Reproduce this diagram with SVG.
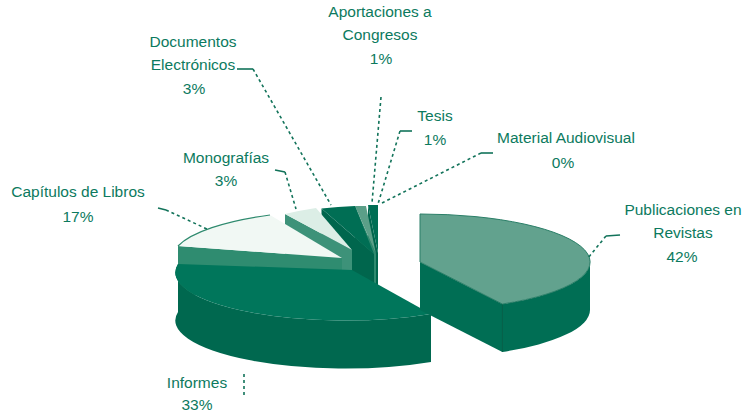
<svg xmlns="http://www.w3.org/2000/svg" width="746" height="415" viewBox="0 0 746 415">
<style>
.lbl{font-family:"Liberation Sans",Arial,sans-serif;font-size:15.5px;fill:#0c7a5e;text-anchor:middle}
.lead{fill:none;stroke:#12735a;stroke-width:1.6;stroke-dasharray:3 3}
.stub{fill:none;stroke:#12735a;stroke-width:1.6}
.dark{fill:#006e54}
.darker{fill:#00664d}
</style>
<rect width="746" height="415" fill="#ffffff"/>
<g id="tesis">
<path class="darker" d="M378,253 L368,205 L368,253 L378,301 Z"/>
<path class="dark" d="M378,253 L368,205 A170,48 0 0,1 378,205 Z"/>
<text class="lbl" x="435" y="121">Tesis</text>
<text class="lbl" x="435" y="145">1%</text>
</g>
<g id="material">
<text class="lbl" x="566" y="143">Material Audiovisual</text>
<text class="lbl" x="563" y="168">0%</text>
</g>
<g id="aportaciones">
<path fill="#2f8a6f" d="M376,254 L355,206 L355,254 L376,302 Z"/>
<path fill="#5b9f88" d="M376,254 L355,206 A170,48 0 0,1 366,206 Z"/>
<text class="lbl" x="380" y="17">Aportaciones a</text>
<text class="lbl" x="380" y="40">Congresos</text>
<text class="lbl" x="381" y="64">1%</text>
</g>
<g id="documentos">
<path class="darker" d="M374,254 L321.5,208.5 L321.5,256.5 L374,302 Z"/>
<path class="dark" d="M374,254 L321.5,208.5 A170,48 0 0,1 355,206 Z"/>
<text class="lbl" x="193" y="47">Documentos</text>
<text class="lbl" x="193" y="70">Electrónicos</text>
<text class="lbl" x="194" y="94">3%</text>
</g>
<g id="monografias">
<path fill="#3d9279" d="M285,214 L352,250 L352,298 L285,262 Z"/>
<path fill="#dceee6" d="M352,250 L285,214 A170,48 0 0,1 316,208 Z"/>
<text class="lbl" x="226" y="163">Monografías</text>
<text class="lbl" x="226" y="186">3%</text>
</g>
<g id="capitulos">
<path fill="#2f8c70" d="M178,246 L342,258 L342,306 L178,294 Z"/>
<path fill="#f1f8f4" d="M342,258 L178,246 A170,48 0 0,1 270,215 Z"/>
<path fill="none" stroke="#2e8a6e" stroke-width="1.2" d="M178,246 A170,48 0 0,1 270,215"/>
<text class="lbl" x="78" y="197">Capítulos de Libros</text>
<text class="lbl" x="78" y="222">17%</text>
</g>
<g id="informes">
<path fill="#00684f" d="M431,314 L431,362 A170,48 0 0,1 178,312 L178,264 A170,48 0 0,0 431,314 Z"/>
<path fill="#00765b" d="M352,270 L431,314 A170,48 0 0,1 178,264 Z"/>
<text class="lbl" x="197" y="388">Informes</text>
<text class="lbl" x="197" y="410">33%</text>
</g>
<g id="publicaciones">
<path class="dark" d="M420,262 L502.4,304 L502.4,352 L420,310 Z"/>
<path class="dark" d="M590,262 L590,310 A170,48 0 0,1 502.4,352 L502.4,304 A170,48 0 0,0 590,262 Z"/>
<line x1="502.4" y1="304" x2="502.4" y2="352" stroke="#005c45" stroke-width="1"/>
<path fill="#62a28e" stroke="#2b7f68" stroke-width="1" d="M420,262 L420,214 A170,48 0 0,1 502.4,304 Z"/>
<text class="lbl" x="683" y="215">Publicaciones en</text>
<text class="lbl" x="683" y="238">Revistas</text>
<text class="lbl" x="682" y="262">42%</text>
</g>
<g id="connectors">
<path class="lead" d="M381,97 L372,203"/>
<path class="stub" d="M412,131 L400,131"/>
<path class="lead" d="M400,131 L378,204"/>
<path class="stub" d="M493,153 L481,153"/>
<path class="lead" d="M481,153 L382,203"/>
<path class="stub" d="M620,235 L606,236"/>
<path class="lead" d="M606,236 L588,258"/>
<path class="stub" d="M158,208 L166,210"/>
<path class="lead" d="M166,210 L207,229"/>
<path class="stub" d="M275,170 L285,172"/>
<path class="lead" d="M285,172 L296,209"/>
<path class="stub" d="M237,69 L253,69"/>
<path class="lead" d="M253,69 L331,205"/>
<path class="lead" d="M244,374 L244,398"/>
</g>
</svg>
